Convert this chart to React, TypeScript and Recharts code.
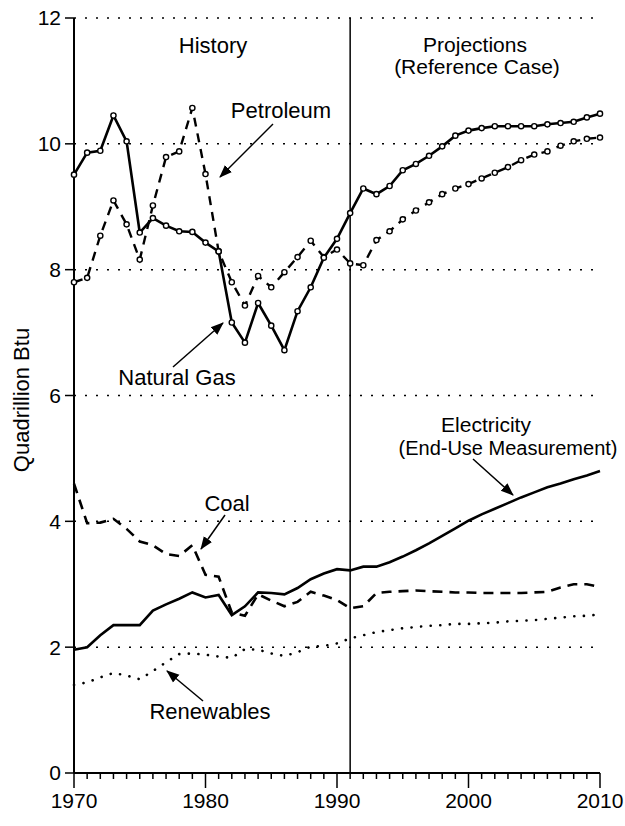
import { LineChart, Line, XAxis, YAxis, CartesianGrid, ReferenceLine } from 'recharts';

const years = [
  1970, 1971, 1972, 1973, 1974, 1975, 1976, 1977, 1978, 1979,
  1980, 1981, 1982, 1983, 1984, 1985, 1986, 1987, 1988, 1989,
  1990, 1991, 1992, 1993, 1994, 1995, 1996, 1997, 1998, 1999,
  2000, 2001, 2002, 2003, 2004, 2005, 2006, 2007, 2008, 2009, 2010,
];

const naturalGas = [
  9.51, 9.86, 9.89, 10.45, 10.04, 8.59, 8.82, 8.70, 8.61, 8.60,
  8.43, 8.29, 7.16, 6.84, 7.47, 7.11, 6.72, 7.34, 7.72, 8.19,
  8.49, 8.90, 9.29, 9.20, 9.33, 9.58, 9.68, 9.81, 9.96, 10.13,
  10.21, 10.25, 10.28, 10.28, 10.28, 10.28, 10.31, 10.33, 10.35, 10.42, 10.48,
];

const petroleum = [
  7.80, 7.87, 8.54, 9.10, 8.72, 8.16, 9.02, 9.79, 9.88, 10.57,
  9.52, 8.29, 7.80, 7.43, 7.90, 7.72, 7.96, 8.20, 8.46, 8.20,
  8.32, 8.10, 8.07, 8.47, 8.61, 8.80, 8.94, 9.07, 9.20, 9.29,
  9.36, 9.45, 9.54, 9.63, 9.74, 9.83, 9.88, 9.97, 10.04, 10.08, 10.10,
];

const electricity = [
  1.96, 2.00, 2.19, 2.35, 2.35, 2.35, 2.58, 2.68, 2.77, 2.87,
  2.79, 2.83, 2.51, 2.65, 2.87, 2.86, 2.84, 2.94, 3.08, 3.17,
  3.24, 3.22, 3.28, 3.28, 3.35, 3.44, 3.54, 3.65, 3.77, 3.89,
  4.01, 4.11, 4.20, 4.29, 4.38, 4.46, 4.54, 4.60, 4.67, 4.73, 4.80,
];

const coal = [
  4.60, 3.97, 3.98, 4.04, 3.88, 3.68, 3.62, 3.48, 3.45, 3.62,
  3.15, 3.12, 2.55, 2.50, 2.84, 2.74, 2.65, 2.72, 2.88, 2.82,
  2.75, 2.62, 2.65, 2.86, 2.88, 2.89, 2.90, 2.89, 2.88, 2.87,
  2.87, 2.86, 2.86, 2.86, 2.86, 2.87, 2.88, 2.95, 3.00, 3.00, 2.96,
];

const renewables = [
  1.40, 1.44, 1.52, 1.59, 1.55, 1.49, 1.62, 1.76, 1.89, 1.90,
  1.88, 1.85, 1.83, 1.97, 1.96, 1.90, 1.86, 1.92, 2.01, 2.02,
  2.06, 2.14, 2.19, 2.24, 2.27, 2.30, 2.32, 2.34, 2.35, 2.37,
  2.37, 2.38, 2.39, 2.41, 2.42, 2.43, 2.45, 2.47, 2.49, 2.50, 2.52,
];

const yTicks = [0, 2, 4, 6, 8, 10, 12];

const data = years.map((year, i) => ({
  year,
  naturalGas: naturalGas[i],
  petroleum: petroleum[i],
  electricity: electricity[i],
  coal: coal[i],
  renewables: renewables[i],
}));

const FONT = "'Liberation Sans', Arial, Helvetica, sans-serif";
const W = 625;
const H = 826;

function YearTick({ x, y, payload }: any) {
  const major = payload.value % 10 === 0;
  return (
    <g>
      <line x1={x} x2={x} y1={y} y2={y + (major ? 15 : 6)} stroke="#000" strokeWidth={1.5} />
      {major && (
        <text x={x} y={y + 35} textAnchor="middle" fontSize={21} fill="#000" fontFamily={FONT}>
          {payload.value}
        </text>
      )}
    </g>
  );
}

const openDot = { r: 2.6, fill: '#fff', stroke: '#000', strokeWidth: 1.4, strokeDasharray: 'none' };

// callout labels with their arrows (pixel positions on the page)
const labels = [
  { text: 'History', x: 213, y: 53, size: 22 },
  { text: 'Projections', x: 475, y: 52, size: 21 },
  { text: '(Reference Case)', x: 477, y: 74, size: 21 },
  { text: 'Petroleum', x: 281, y: 118, size: 22 },
  { text: 'Natural Gas', x: 177, y: 385, size: 22 },
  { text: 'Electricity', x: 486, y: 432, size: 21 },
  { text: '(End-Use Measurement)', x: 508, y: 455, size: 20 },
  { text: 'Coal', x: 227, y: 511, size: 22 },
  { text: 'Renewables', x: 210, y: 719, size: 22 },
];

const arrows = [
  { x1: 273, y1: 124, x2: 220, y2: 177 },
  { x1: 173, y1: 367, x2: 223, y2: 323 },
  { x1: 473, y1: 459, x2: 513, y2: 495 },
  { x1: 225, y1: 515, x2: 201, y2: 549 },
  { x1: 203, y1: 701, x2: 167, y2: 671 },
];

export default function App() {
  return (
    <div style={{ position: 'absolute', left: 0, top: 0, width: W, height: H, background: '#fff' }}>
      <LineChart
        width={W}
        height={H}
        data={data}
        margin={{ top: 18, right: 25, bottom: 0, left: 0 }}
        style={{ fontFamily: FONT }}
      >
        <CartesianGrid
          horizontal
          vertical={false}
          stroke="#000"
          strokeWidth={1.5}
          strokeDasharray="2 9"
        />
        <XAxis
          dataKey="year"
          type="number"
          domain={[1970, 2010]}
          ticks={years}
          interval={0}
          height={53}
          tickSize={0}
          tickMargin={0}
          tickLine={false}
          axisLine={{ stroke: '#000', strokeWidth: 2 }}
          tick={<YearTick />}
        />
        <YAxis
          type="number"
          domain={[0, 12]}
          ticks={yTicks}
          width={74}
          tickSize={9}
          tickMargin={4}
          tickLine={{ stroke: '#000', strokeWidth: 1.5 }}
          axisLine={{ stroke: '#000', strokeWidth: 2 }}
          tick={{ fontSize: 21, fill: '#000', fontFamily: FONT }}
        />
        <ReferenceLine x={1991} stroke="#000" strokeWidth={1.5} />
        <Line
          type="linear"
          dataKey="renewables"
          stroke="#000"
          strokeWidth={2.6}
          strokeDasharray="0.1 9.5"
          strokeLinecap="round"
          dot={false}
          isAnimationActive={false}
        />
        <Line
          type="linear"
          dataKey="coal"
          stroke="#000"
          strokeWidth={2.6}
          strokeDasharray="10 7"
          dot={false}
          isAnimationActive={false}
        />
        <Line
          type="linear"
          dataKey="electricity"
          stroke="#000"
          strokeWidth={2.6}
          dot={false}
          isAnimationActive={false}
        />
        <Line
          type="linear"
          dataKey="petroleum"
          stroke="#000"
          strokeWidth={2.4}
          strokeDasharray="9 7"
          dot={openDot}
          isAnimationActive={false}
        />
        <Line
          type="linear"
          dataKey="naturalGas"
          stroke="#000"
          strokeWidth={2.6}
          dot={openDot}
          isAnimationActive={false}
        />
      </LineChart>
      <svg
        width={W}
        height={H}
        style={{ position: 'absolute', left: 0, top: 0, pointerEvents: 'none' }}
      >
        <defs>
          <marker id="head" markerUnits="userSpaceOnUse" markerWidth={14} markerHeight={12}
            refX={12} refY={6} orient="auto">
            <path d="M0,1 L13,6 L0,11 Z" fill="#000" />
          </marker>
        </defs>
        <text
          transform="translate(29, 400) rotate(-90)"
          textAnchor="middle"
          fontSize={22}
          fontFamily={FONT}
          fill="#000"
        >
          Quadrillion Btu
        </text>
        {labels.map(l => (
          <text key={l.text} x={l.x} y={l.y} textAnchor="middle" fontSize={l.size} fontFamily={FONT} fill="#000">
            {l.text}
          </text>
        ))}
        {arrows.map((a, i) => (
          <line key={i} x1={a.x1} y1={a.y1} x2={a.x2} y2={a.y2} stroke="#000" strokeWidth={1.5} markerEnd="url(#head)" />
        ))}
      </svg>
    </div>
  );
}
